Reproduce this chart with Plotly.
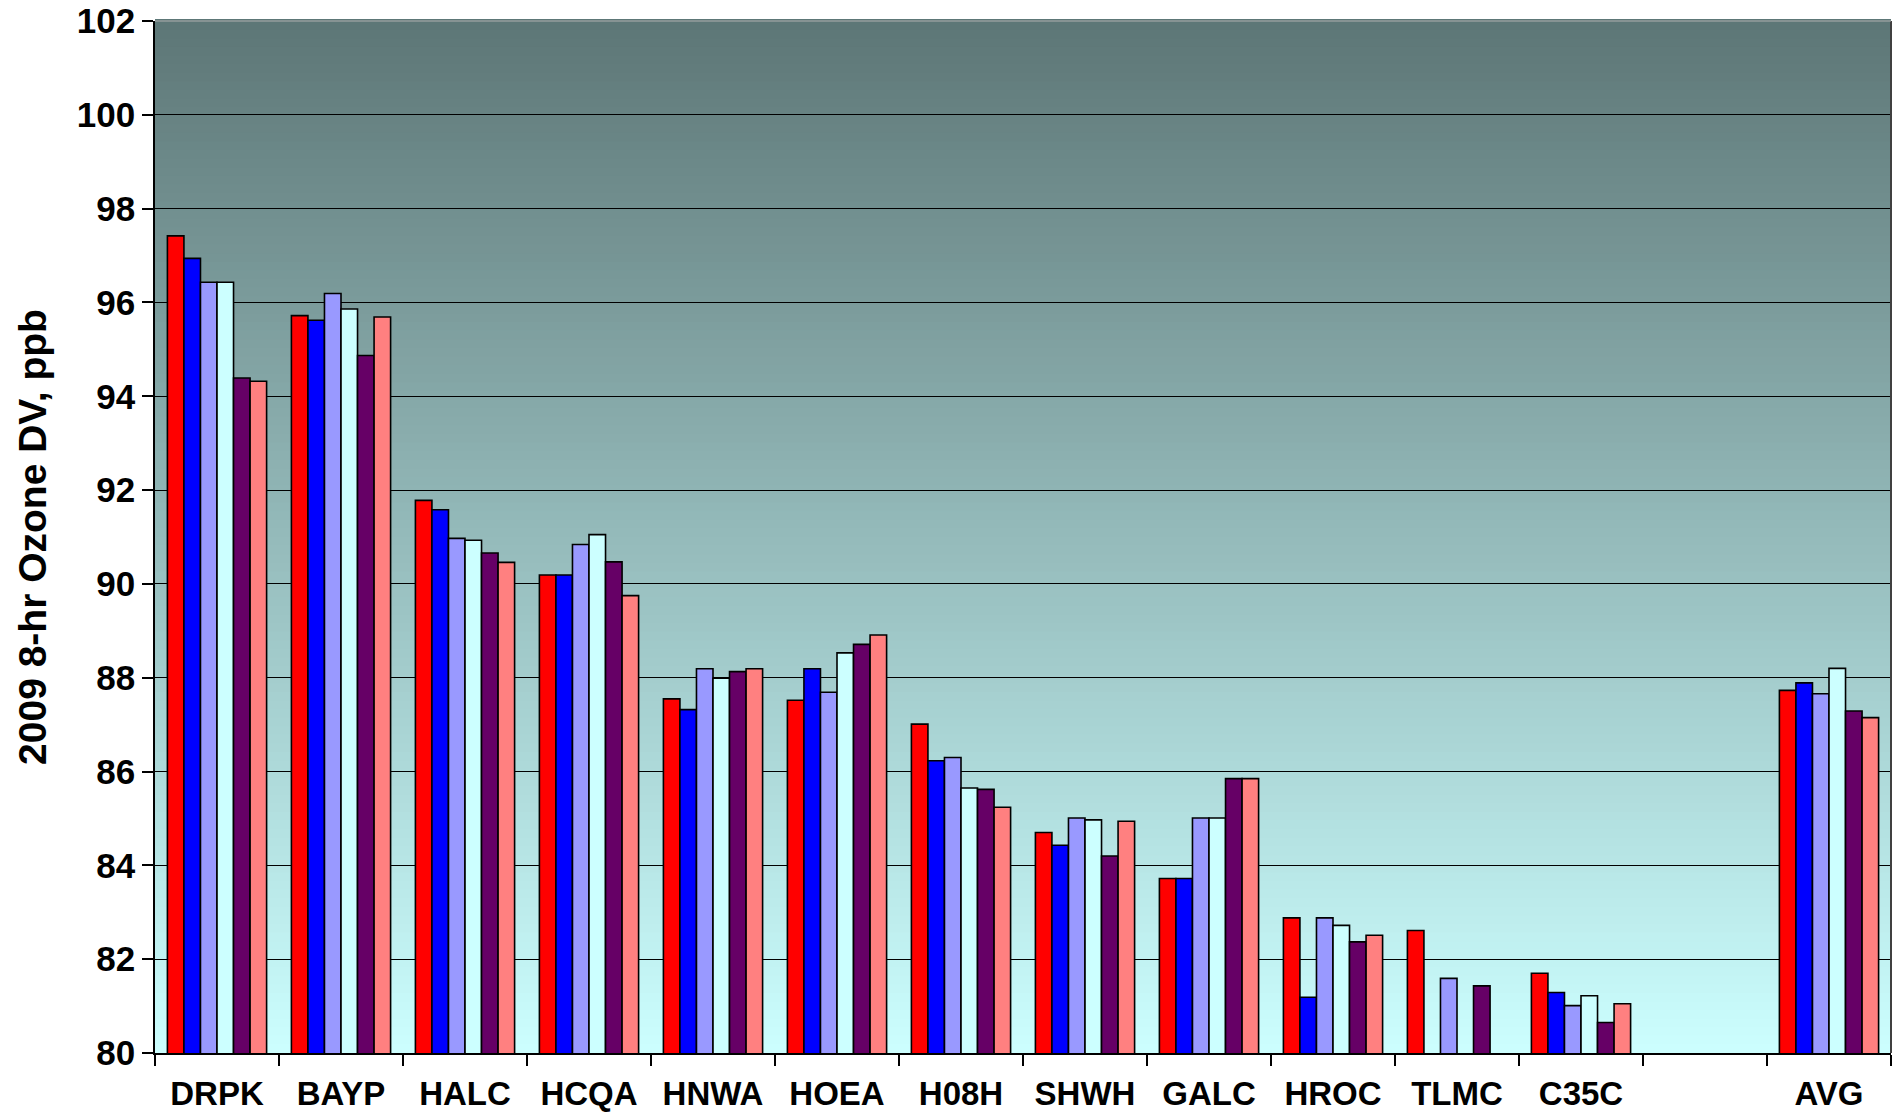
import plotly.graph_objects as go

# Monitoring sites (blank slot separates the sites from the average)
sites = ["DRPK", "BAYP", "HALC", "HCQA", "HNWA", "HOEA", "H08H",
         "SHWH", "GALC", "HROC", "TLMC", "C35C", " ", "AVG"]

# 2009 8-hr ozone design values (ppb) for each modelling case
case_1 = [97.42, 95.72, 91.78, 90.19, 87.55, 87.52, 87.01, 84.70, 83.72, 82.88, 82.61, 81.70, None, 87.73]
case_2 = [96.94, 95.62, 91.58, 90.19, 87.32, 88.19, 86.23, 84.43, 83.72, 81.19, None, 81.29, None, 87.89]
case_3 = [96.43, 96.19, 90.97, 90.84, 88.19, 87.69, 86.30, 85.01, 85.01, 82.88, 81.59, 81.01, None, 87.66]
case_4 = [96.43, 95.86, 90.93, 91.05, 87.99, 88.53, 85.65, 84.97, 85.01, 82.72, None, 81.22, None, 88.20]
case_5 = [94.39, 94.87, 90.66, 90.47, 88.13, 88.71, 85.62, 84.20, 85.85, 82.37, 81.43, 80.65, None, 87.29]
case_6 = [94.32, 95.69, 90.46, 89.75, 88.19, 88.91, 85.24, 84.94, 85.85, 82.51, None, 81.05, None, 87.15]

series = [case_1, case_2, case_3, case_4, case_5, case_6]
series_names = ["Case 1", "Case 2", "Case 3", "Case 4", "Case 5", "Case 6"]
series_colors = ["#FF0000", "#0000FF", "#9999FF", "#CCFFFF", "#660066", "#FF8080"]

y_ticks = list(range(80, 103, 2))

fig = go.Figure()
for name, vals, col in zip(series_names, series, series_colors):
    fig.add_trace(go.Bar(
        x=sites, y=vals, name=name,
        marker=dict(color=col, line=dict(color="#000000", width=1.6)),
        showlegend=False,
    ))

# Vertical gradient behind the plot area (dark slate at top to pale cyan at bottom)
top_rgb = (93, 118, 118)
bot_rgb = (204, 255, 255)
n_strips = 120
shapes = []
for i in range(n_strips):
    t = (i + 0.5) / n_strips  # 0 at bottom, 1 at top
    r, g, b = (round(bot_rgb[k] + (top_rgb[k] - bot_rgb[k]) * t) for k in range(3))
    shapes.append(dict(
        type="rect", xref="paper", yref="paper",
        x0=0, x1=1, y0=i / n_strips, y1=(i + 1) / n_strips + 0.002,
        fillcolor=f"rgb({r},{g},{b})", line=dict(width=0), layer="below",
    ))
# Plot-area frame on the right and top
shapes.append(dict(type="line", xref="paper", yref="paper", x0=1, x1=1, y0=0, y1=1,
                   line=dict(color="#404040", width=2), layer="above"))
shapes.append(dict(type="line", xref="paper", yref="paper", x0=0, x1=1, y0=1, y1=1,
                   line=dict(color="#B0B0B0", width=1), layer="above"))

font_family = "Liberation Sans, Arial, sans-serif"

fig.update_layout(
    width=1898, height=1113,
    margin=dict(l=155, r=7, t=21, b=60),
    paper_bgcolor="white",
    plot_bgcolor="rgba(0,0,0,0)",
    barmode="group", bargap=0.2, bargroupgap=0,
    shapes=shapes,
    font=dict(family=font_family, color="black"),
    xaxis=dict(
        type="category", categoryorder="array", categoryarray=sites,
        tickson="boundaries", ticks="outside", ticklen=11, tickcolor="#000000",
        tickwidth=1.5, showline=True, linecolor="#000000", linewidth=1.5,
        showgrid=False, automargin=False, ticklabelstandoff=11,
        tickfont=dict(size=33, family=font_family, weight="bold"),
    ),
    yaxis=dict(
        range=[80, 102], tickvals=y_ticks, ticktext=[str(v) for v in y_ticks],
        ticks="outside", ticklen=11, tickcolor="#000000", tickwidth=1.5,
        showline=True, linecolor="#000000", linewidth=1.5,
        showgrid=True, gridcolor="#000000", gridwidth=1,
        zeroline=False, automargin=False,
        tickfont=dict(size=35, family=font_family, weight="bold"),
        title=dict(text="2009 8-hr Ozone DV, ppb", standoff=18,
                   font=dict(size=39, family=font_family, weight="bold")),
    ),
)

fig.write_html("out.html")
